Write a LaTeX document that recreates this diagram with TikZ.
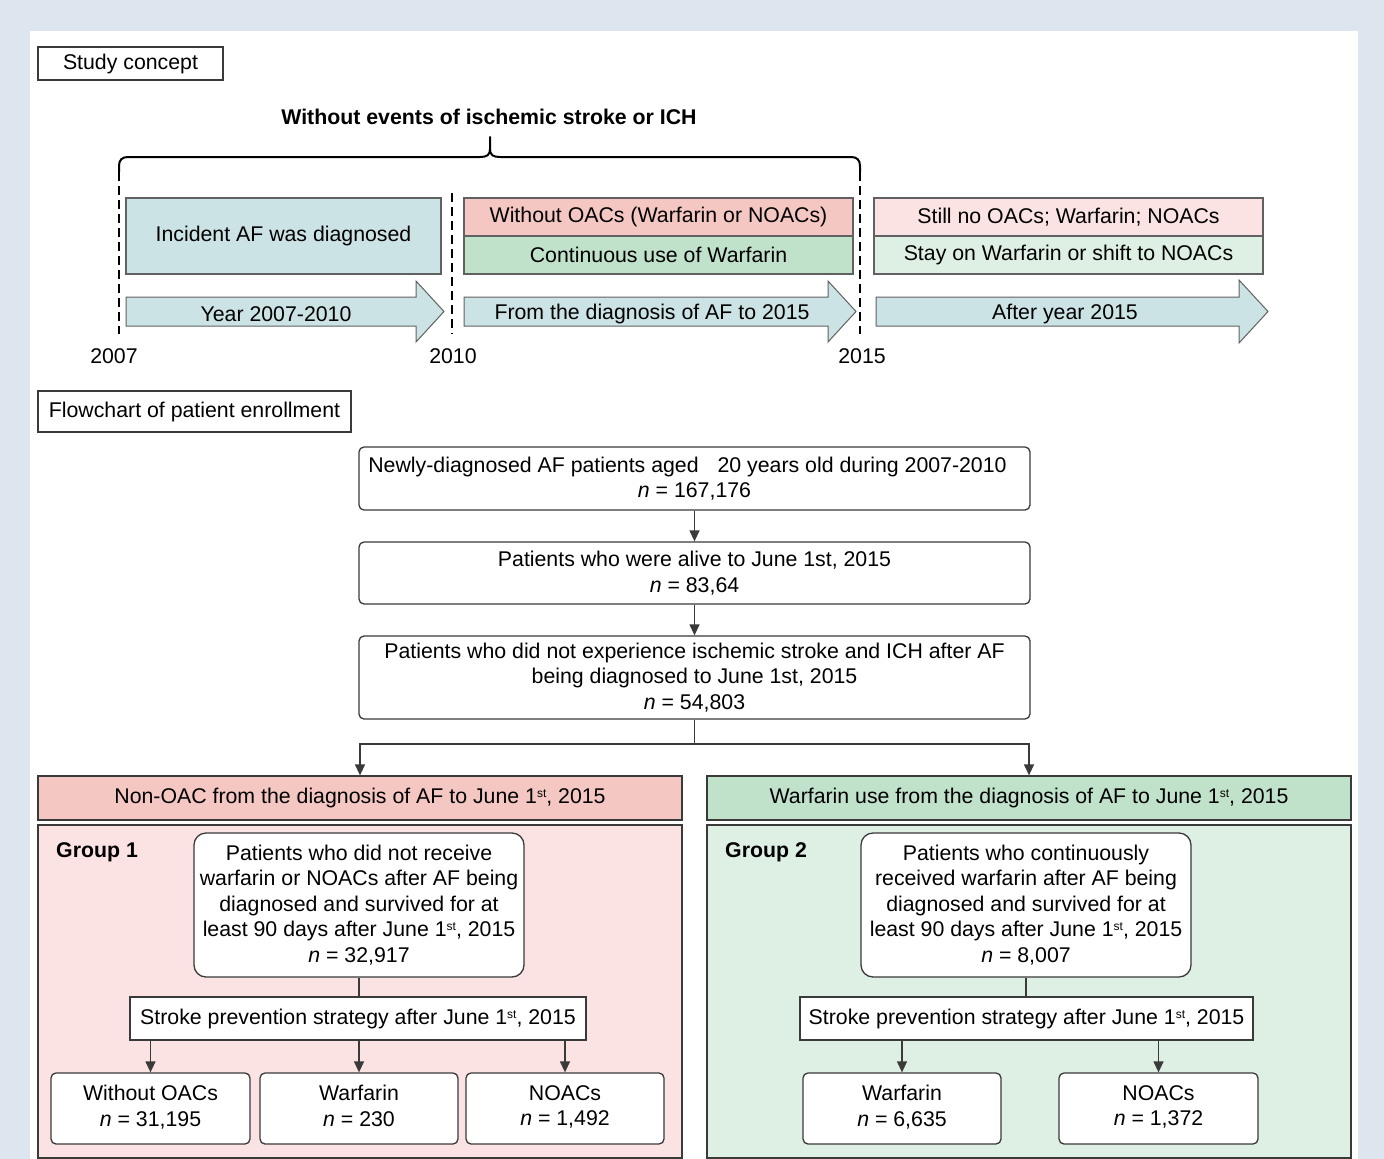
\documentclass[tikz,border=0pt]{standalone}
\usepackage{fontspec}
\setmainfont{Liberation Sans}
\usetikzlibrary{arrows.meta}
\definecolor{bgframe}{HTML}{DDE6EF}
\definecolor{cteal}{HTML}{CCE3E6}
\definecolor{cpinkd}{HTML}{F5C7C3}
\definecolor{cgreend}{HTML}{C0E2CB}
\definecolor{cpinkl}{HTML}{FCE3E3}
\definecolor{cgreenl}{HTML}{DEF0E4}
\definecolor{cline}{HTML}{3A3A3A}
\newcommand{\myst}{\raisebox{6pt}{\fontsize{12}{12}\selectfont st}}
\begin{document}
\begin{tikzpicture}[x=1pt,y=-1pt,
  font=\fontsize{21.3}{25.5}\selectfont,
  every node/.style={inner sep=0pt, align=center},
  sqbox/.style={draw=cline, line width=1.3pt, rectangle},
  rbox/.style={draw=cline, line width=1.3pt, rectangle, rounded corners=5pt, fill=white},
  bigrbox/.style={draw=cline, line width=1.3pt, rectangle, rounded corners=12pt, fill=white},
  blockarrow/.style={draw=cline!80, line width=1pt, fill=cteal},
  dashline/.style={line width=2pt, dash pattern=on 9pt off 5pt},
  conn/.style={draw=cline, line width=1.3pt},
  arr/.style={conn, -{Triangle[length=11pt,width=10pt]}}
]
\useasboundingbox (0,0) rectangle (1384,1159);
\fill[bgframe] (0,0) rectangle (1384,1159);
\fill[white] (30,31) rectangle (1358,1159);

% ---------- Study concept ----------
\node[sqbox, minimum width=185pt, minimum height=33pt] (concept) at (130.5,63.5) {Study concept};
\node[font=\fontsize{21.3}{25.5}\selectfont\bfseries] (brlabel) at (489,117) {Without events of ischemic stroke or ICH};

% brace
\draw[line width=2pt, line cap=round] (119,172) -- (119,166) .. controls (119,160) and (122,157) .. (128,157)
  -- (480,157) .. controls (487,157) and (490,155) .. (490,149) -- (490,137);
\draw[line width=2pt, line cap=round] (490,149) .. controls (490,155) and (493,157) .. (500,157)
  -- (851,157) .. controls (857,157) and (860,160) .. (860,166) -- (860,172);
\coordinate (d1top) at (119,172); \coordinate (d1bot) at (119,334);
\coordinate (d2top) at (452,193); \coordinate (d2bot) at (452,334);
\coordinate (d3top) at (860,172); \coordinate (d3bot) at (860,334);
\draw[dashline] (d1top) -- (d1bot);
\draw[dashline] (d2top) -- (d2bot);
\draw[dashline] (d3top) -- (d3bot);

% boxes
\node[sqbox, draw=cline!80, fill=cteal, minimum width=315pt, minimum height=76pt] (incident) at (283.5,236) {Incident AF was diagnosed};
\node[sqbox, draw=cline!80, fill=cpinkd, minimum width=389pt, minimum height=38pt] (without) at (658.5,217) {Without OACs (Warfarin or NOACs)};
\node[sqbox, draw=cline!80, fill=cgreend, minimum width=389pt, minimum height=38pt] (contin) at (658.5,255) {Continuous use of Warfarin};
\node[sqbox, draw=cline!80, fill=cpinkl, minimum width=389pt, minimum height=38pt] (still) at (1068.5,217) {Still no OACs; Warfarin; NOACs};
\node[sqbox, draw=cline!80, fill=cgreenl, minimum width=389pt, minimum height=38pt] (stay) at (1068.5,255) {Stay on Warfarin or shift to NOACs};

% block arrows
\draw[blockarrow] (126,297) -- (416,297) -- (416,281) -- (444,311.5) -- (416,342) -- (416,326) -- (126,326) -- cycle;
\draw[blockarrow] (464,297) -- (828,297) -- (828,281) -- (856,311.5) -- (828,342) -- (828,326) -- (464,326) -- cycle;
\draw[blockarrow] (876,297) -- (1239,297) -- (1239,280) -- (1268,311.5) -- (1239,343) -- (1239,326) -- (876,326) -- cycle;
\node (arr1) at (276,314) {Year 2007-2010};
\node (arr2) at (652,314) {From the diagnosis of AF to 2015};
\node (arr3) at (1065,314) {After year 2015};

\node (y2007) at (114,356) {2007};
\node (y2010) at (453,356) {2010};
\node (y2015) at (862,356) {2015};

% ---------- Flowchart ----------
\node[sqbox, minimum width=313pt, minimum height=41pt] (flow) at (194.5,411.5) {Flowchart of patient enrollment};

\node[rbox, minimum width=671pt, minimum height=63pt] (A) at (694.5,478.5)
  {Newly-diagnosed AF patients aged\hspace{19pt}20 years old during 2007-2010\hspace*{14pt}\mbox{}\\\textit{n} = 167,176};
\node[rbox, minimum width=671pt, minimum height=62pt] (B) at (694.5,573)
  {Patients who were alive to June 1st, 2015\\\textit{n} = 83,64};
\node[rbox, minimum width=671pt, minimum height=83pt] (C) at (694.5,677.5)
  {Patients who did not experience ischemic stroke and ICH after AF\\being diagnosed to June 1st, 2015\\\textit{n} = 54,803};

\draw[arr] (A.south) -- (B.north);
\draw[arr] (B.south) -- (C.north);

% headers and groups
\node[sqbox, fill=cpinkd, minimum width=644pt, minimum height=44pt] (H1) at (360,798)
  {Non-OAC from the diagnosis of AF to June 1\myst, 2015};
\node[sqbox, fill=cgreend, minimum width=644pt, minimum height=44pt] (H2) at (1029,798)
  {Warfarin use from the diagnosis of AF to June 1\myst, 2015};
\coordinate (split) at (694.5,744);
\draw[conn] (C.south) -- (split);
\draw[arr] (split) -| (H1.north);
\draw[arr] (split) -| (H2.north);

\node[sqbox, fill=cpinkl, minimum width=644pt, minimum height=333pt] (G1) at (360,991.5) {};
\node[sqbox, fill=cgreenl, minimum width=644pt, minimum height=333pt] (G2) at (1029,991.5) {};
\node[anchor=west, font=\fontsize{21.3}{25.5}\selectfont\bfseries] (g1lab) at (56,852) {Group 1};
\node[anchor=west, font=\fontsize{21.3}{25.5}\selectfont\bfseries] (g2lab) at (725,852) {Group 2};

\node[bigrbox, minimum width=330pt, minimum height=144pt] (P1) at (359,905)
  {Patients who did not receive\\warfarin or NOACs after AF being\\diagnosed and survived for at\\least 90 days after June 1\myst, 2015\\\textit{n} = 32,917};
\node[bigrbox, minimum width=330pt, minimum height=144pt] (P2) at (1026,905)
  {Patients who continuously\\received warfarin after AF being\\diagnosed and survived for at\\least 90 days after June 1\myst, 2015\\\textit{n} = 8,007};

\node[sqbox, fill=white, minimum width=456pt, minimum height=43pt] (S1) at (358,1018.5)
  {Stroke prevention strategy after June 1\myst, 2015};
\node[sqbox, fill=white, minimum width=453pt, minimum height=43pt] (S2) at (1026.5,1018.5)
  {Stroke prevention strategy after June 1\myst, 2015};
\draw[conn] (P1.south) -- (P1.south |- S1.north);
\draw[conn] (P2.south) -- (P2.south |- S2.north);

\node[rbox, minimum width=199pt, minimum height=71pt] (B11) at (150.5,1108.5) {Without OACs\\\textit{n} = 31,195\\[-20pt]\mbox{}};
\node[rbox, minimum width=198pt, minimum height=71pt] (B12) at (359,1108.5) {Warfarin\\\textit{n} = 230\\[-20pt]\mbox{}};
\node[rbox, minimum width=198pt, minimum height=71pt] (B13) at (565,1108.5) {NOACs\\\textit{n} = 1,492\\[-20pt]\mbox{}};
\node[rbox, minimum width=198pt, minimum height=71pt] (B21) at (902,1108.5) {Warfarin\\\textit{n} = 6,635\\[-20pt]\mbox{}};
\node[rbox, minimum width=199pt, minimum height=71pt] (B22) at (1158.5,1108.5) {NOACs\\\textit{n} = 1,372\\[-20pt]\mbox{}};

\draw[arr] (S1.south -| B11.north) -- (B11.north);
\draw[arr] (S1.south -| B12.north) -- (B12.north);
\draw[arr] (S1.south -| B13.north) -- (B13.north);
\draw[arr] (S2.south -| B21.north) -- (B21.north);
\draw[arr] (S2.south -| B22.north) -- (B22.north);
\end{tikzpicture}
\end{document}
